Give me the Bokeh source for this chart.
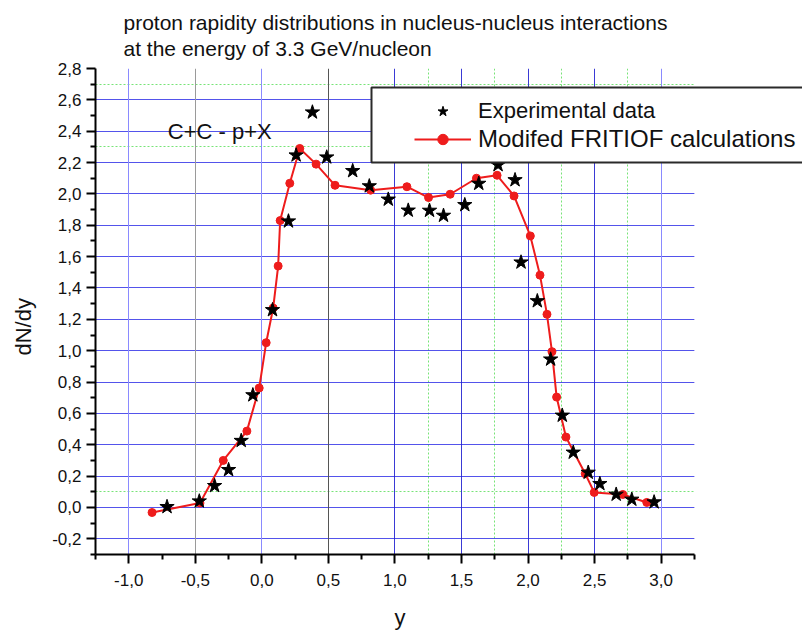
from bokeh.plotting import figure
from bokeh.models import (Range1d, FixedTicker, Grid, Legend, LegendItem, BoxAnnotation,
                          Label, Title, CustomJSTickFormatter)
from bokeh.embed import file_html
from bokeh.resources import INLINE

# ---- data ----
fritiof_x = [-0.825, -0.465, -0.29, -0.1125, -0.02, 0.0325, 0.085, 0.1225, 0.1375, 0.21,
             0.285, 0.4075, 0.55, 0.8175, 1.09, 1.2525, 1.415, 1.6125, 1.7675, 1.895,
             2.0175, 2.09, 2.1425, 2.18, 2.215, 2.285, 2.43, 2.4975, 2.7125, 2.8925]
fritiof_y = [-0.032, 0.028, 0.30, 0.487, 0.762, 1.051, 1.272, 1.54, 1.83, 2.068,
             2.29, 2.19, 2.055, 2.024, 2.046, 1.977, 1.998, 2.10, 2.119, 1.987,
             1.732, 1.482, 1.232, 0.994, 0.704, 0.449, 0.215, 0.096, 0.083, 0.032]

exp_x = [-0.7125, -0.47, -0.355, -0.25, -0.155, -0.0675, 0.08, 0.2, 0.2575, 0.38,
         0.4875, 0.6825, 0.8075, 0.95, 1.1, 1.26, 1.365, 1.525, 1.63, 1.775,
         1.9025, 1.9475, 2.07, 2.17, 2.2575, 2.34, 2.4525, 2.54, 2.6625, 2.78, 2.9475]
exp_y = [0.004, 0.04, 0.138, 0.24, 0.426, 0.717, 1.26, 1.826, 2.247, 2.521,
         2.234, 2.147, 2.05, 1.965, 1.895, 1.894, 1.862, 1.93, 2.066, 2.185,
         2.089, 1.564, 1.317, 0.945, 0.587, 0.351, 0.223, 0.151, 0.083, 0.051, 0.034]

x_ticks = [-1.0, -0.5, 0.0, 0.5, 1.0, 1.5, 2.0, 2.5, 3.0]
x_minor = [-1.25, -0.75, -0.25, 0.25, 0.75, 1.25, 1.75, 2.25, 2.75, 3.25]
y_ticks = [-0.2, 0.0, 0.2, 0.4, 0.6, 0.8, 1.0, 1.2, 1.4, 1.6, 1.8, 2.0, 2.2, 2.4, 2.6, 2.8]
y_minor = [-0.3, -0.1, 0.1, 0.3, 0.5, 0.7, 0.9, 1.1, 1.3, 1.5, 1.7, 1.9, 2.1, 2.3, 2.5, 2.7]
x_axis_bounds = (-1.25, 3.25)

grid_x_blue_dark = [1.0, 1.5, 2.0, 2.5]
grid_x_blue_light = [-1.0, 0.0, 3.0]
grid_x_gray_light = [-0.5]
grid_x_gray_dark = [0.5]
grid_x_green = [1.25, 1.75, 2.25, 2.75]
grid_y_blue = [-0.2, 0.0, 0.2, 0.4, 0.6, 0.8, 1.0, 1.2, 1.4, 1.6, 1.8, 2.0, 2.2, 2.4, 2.6]
grid_y_green = [0.1, 2.3, 2.7]

title_text = "proton rapidity distributions in nucleus-nucleus interactions\nat the energy of 3.3 GeV/nucleon"
x_label = "y"
y_label = "dN/dy"
reaction_text = "C+C - p+X"
reaction_pos = (-0.707, 2.40)
legend_labels = ["Experimental data", "Modifed FRITIOF calculations"]

SANS = "Liberation Sans"
TXT = "#111111"
NBSP = "\u00a0"

p = figure(width=802, height=632, output_backend="svg", toolbar_location=None,
           x_range=Range1d(-1.25, 4.0626), y_range=Range1d(-0.3, 2.8),
           min_border_left=95, min_border_right=0, min_border_top=68, min_border_bottom=77)
p.outline_line_color = None
p.background_fill_color = "white"
p.border_fill_color = "white"
p.xgrid.visible = False
p.ygrid.visible = False

p.title = Title(text=title_text, align="left", offset=28, standoff=16, text_font=SANS,
                text_font_size="21px", text_font_style="normal", text_color=TXT,
                text_line_height=1.15)

# grids
def add_grid(dim, ticks, color, alpha, dash="solid", width=1):
    g = Grid(dimension=dim, ticker=FixedTicker(ticks=ticks), grid_line_color=color,
             grid_line_alpha=alpha, grid_line_dash=dash, grid_line_width=width)
    p.add_layout(g)

add_grid(1, grid_y_green, "#55dd55", 0.8, "2 2")
add_grid(0, grid_x_green, "#55dd55", 0.8, "2 2")
add_grid(1, grid_y_blue, "#3535e8", 0.85)
add_grid(0, grid_x_gray_light, "#9a9a9a", 1.0)
add_grid(0, grid_x_gray_dark, "#555555", 1.0)
add_grid(0, grid_x_blue_light, "#8a8aff", 1.0)
add_grid(0, grid_x_blue_dark, "#2525d0", 0.9)

# blank out the grid beyond the axis end (the legend overhangs this area)
p.add_layout(BoxAnnotation(left=x_axis_bounds[1], fill_color="white", fill_alpha=1.0,
                           line_alpha=0, level="underlay"))

fmt = CustomJSTickFormatter(code="return tick.toFixed(1).replace('.', ',');")
for ax, ticks, minor in ((p.xaxis[0], x_ticks, x_minor), (p.yaxis[0], y_ticks, y_minor)):
    ax.ticker = FixedTicker(ticks=ticks, minor_ticks=minor)
    ax.formatter = fmt
    ax.axis_line_width = 2
    ax.axis_line_color = "black"
    ax.major_tick_line_width = 2
    ax.minor_tick_line_width = 2
    ax.major_tick_out = 9
    ax.major_tick_in = 0
    ax.minor_tick_out = 5
    ax.minor_tick_in = 0
    ax.major_label_text_font = SANS
    ax.major_label_text_font_size = "17px"
    ax.major_label_text_color = TXT
    ax.axis_label_text_font = SANS
    ax.axis_label_text_font_size = "22px"
    ax.axis_label_text_font_style = "normal"
    ax.axis_label_text_color = TXT

p.xaxis.bounds = x_axis_bounds
# trailing no-break spaces shift the centred axis labels to where the reference has them
p.xaxis.axis_label = x_label + NBSP * 16
p.yaxis.axis_label = y_label + NBSP * 5
p.xaxis.major_label_standoff = 10
p.xaxis.axis_label_standoff = 16
p.yaxis.major_label_standoff = 5
p.yaxis.axis_label_standoff = 13

line = p.line(fritiof_x, fritiof_y, line_color="#ee1c1c", line_width=2)
dots = p.scatter(fritiof_x, fritiof_y, marker="circle", size=8, fill_color="#ee1c1c",
                 line_color="#ee1c1c")
stars = p.scatter(exp_x, exp_y, marker="star", size=15, fill_color="black", line_color="black")

p.add_layout(Label(x=reaction_pos[0], y=reaction_pos[1], text=reaction_text,
                   text_baseline="alphabetic", text_font=SANS, text_font_size="22px",
                   text_color=TXT))

# legend frame (the legend overhangs the right edge of the picture)
p.add_layout(BoxAnnotation(left=276, right=840, bottom=392, top=467,
                           left_units="screen", right_units="screen",
                           bottom_units="screen", top_units="screen",
                           fill_color="white", fill_alpha=1.0,
                           line_color="#2a2a2a", line_width=2, line_alpha=1.0))

common = dict(padding=0, spacing=0, margin=0, glyph_width=57, glyph_height=26,
              label_height=26, label_standoff=7, label_text_font=SANS,
              label_text_color=TXT, border_line_alpha=0, background_fill_alpha=0)
p.add_layout(Legend(items=[LegendItem(label=legend_labels[0], renderers=[stars])],
                    location=(319, 430), label_text_font_size="22px", **common))
p.add_layout(Legend(items=[LegendItem(label=legend_labels[1], renderers=[line, dots])],
                    location=(319, 401), label_text_font_size="24px", **common))

open("out.html", "w").write(file_html(p, INLINE))
